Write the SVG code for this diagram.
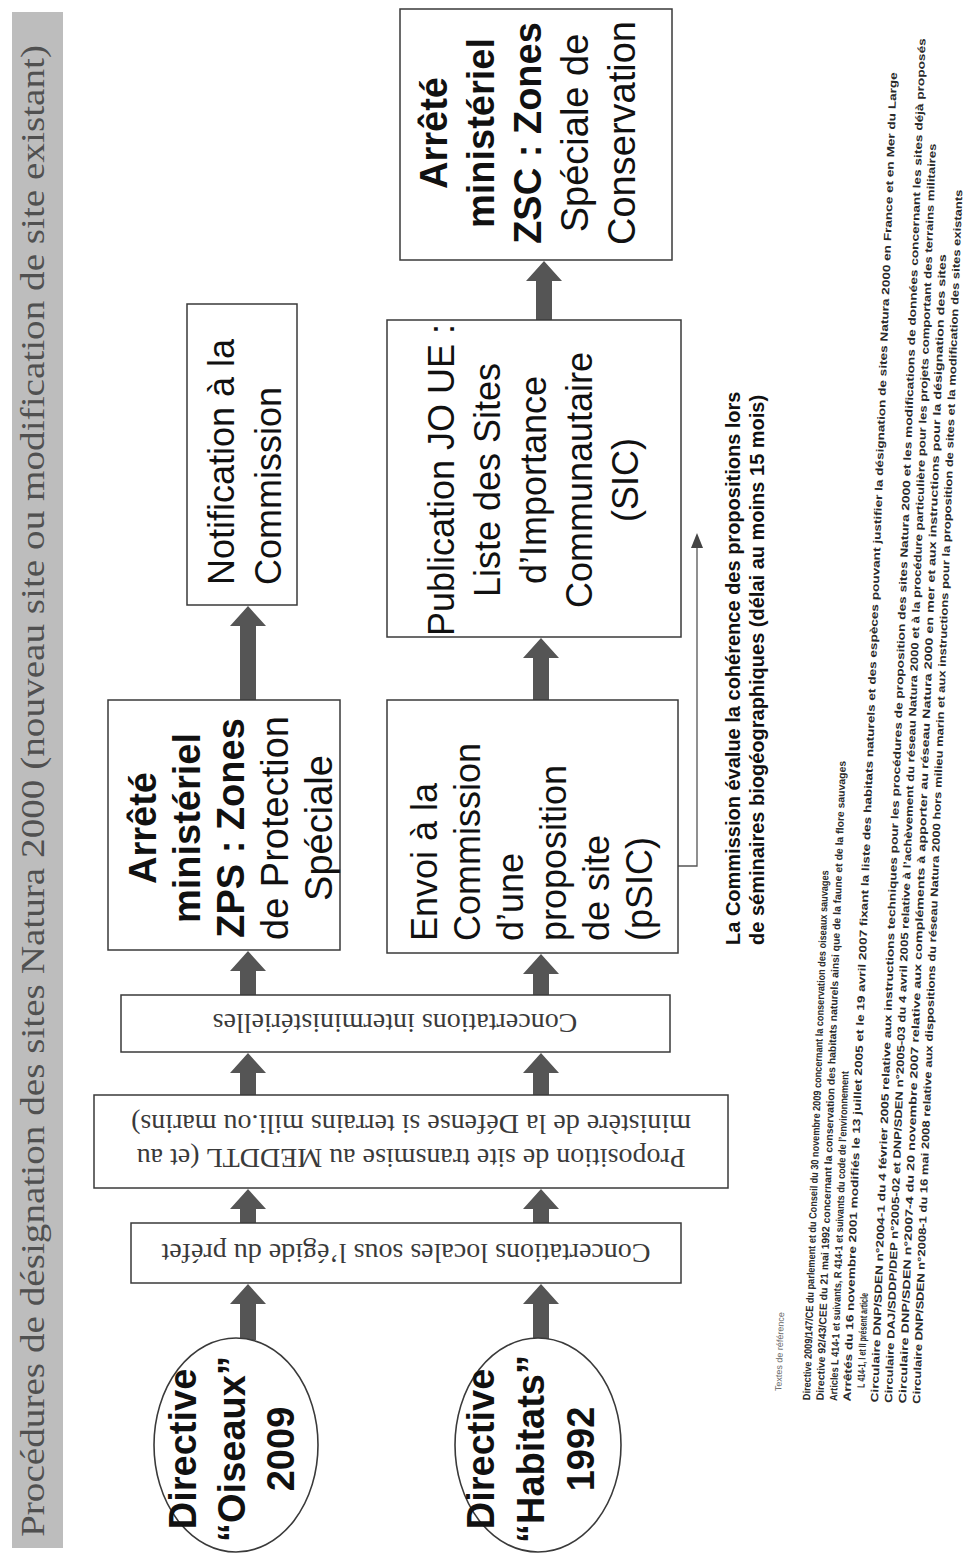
<svg xmlns="http://www.w3.org/2000/svg" width="979" height="1558" viewBox="0 0 979 1558">
<defs>
<style>
.box{fill:#fff;stroke:#3a3a3a;stroke-width:1.5}
.ell{fill:#fff;stroke:#3a3a3a;stroke-width:1.6}
.arr{fill:#555}
.fb{fill:none;stroke:#555;stroke-width:1.3}
.b{font-family:"Liberation Sans",Arial,sans-serif;font-weight:bold;font-size:38px;fill:#111}
.r{font-family:"Liberation Sans",Arial,sans-serif;font-size:36px;fill:#111}
.r38{font-family:"Liberation Sans",Arial,sans-serif;font-size:38px;fill:#111}
.s{font-family:"Liberation Serif","Times New Roman",serif;font-size:28px;fill:#3a3a3a}
.title{font-family:"Liberation Serif","Times New Roman",serif;font-size:34px;fill:#505050}
.note{font-family:"Liberation Sans",Arial,sans-serif;font-weight:bold;font-size:20px;fill:#111}
.fn{font-family:"Liberation Sans",Arial,sans-serif;font-weight:bold;font-size:10.5px;fill:#2a2a2a}
.fnh{font-family:"Liberation Sans",Arial,sans-serif;font-size:9px;fill:#666}
</style>
</defs>
<rect width="979" height="1558" fill="#fff"/>

<g id="title">
<rect x="12" y="12" width="51" height="1536" fill="#bdbdbd"/>
<text class="title" transform="rotate(-90)" x="-1537" y="44" textLength="1492" lengthAdjust="spacingAndGlyphs">Procédures de désignation des sites Natura 2000 (nouveau site ou modification de site existant)</text>
</g>

<g id="connectors">
<polygon class="arr" points="240,1340 240,1304 230,1304 248,1284 266,1304 256,1304 256,1340"/>
<polygon class="arr" points="533,1340 533,1304 523,1304 541,1284 559,1304 549,1304 549,1340"/>
<polygon class="arr" points="240,1223 240,1209 230,1209 248,1189 266,1209 256,1209 256,1223"/>
<polygon class="arr" points="533,1223 533,1209 523,1209 541,1189 559,1209 549,1209 549,1223"/>
<polygon class="arr" points="240,1095 240,1073 230,1073 248,1053 266,1073 256,1073 256,1095"/>
<polygon class="arr" points="533,1095 533,1073 523,1073 541,1053 559,1073 549,1073 549,1095"/>
<polygon class="arr" points="240,995 240,971 230,971 248,951 266,971 256,971 256,995"/>
<polygon class="arr" points="533,995 533,974 523,974 541,954 559,974 549,974 549,995"/>
<polygon class="arr" points="240,700 240,626 230,626 248,606 266,626 256,626 256,700"/>
<polygon class="arr" points="533,700 533,658 523,658 541,638 559,658 549,658 549,700"/>
<polygon class="arr" points="536,320 536,281 526,281 544,261 562,281 552,281 552,320"/>
<path class="fb" d="M678,866 H697 V547"/>
<polygon fill="#444" points="691,548 697,533 703,548"/>
</g>

<g id="oiseaux">
<ellipse class="ell" cx="236" cy="1445" rx="82" ry="107"/>
<g transform="rotate(-90)" text-anchor="middle">
<text class="b" x="-1449" y="196">Directive</text>
<text class="b" x="-1449" y="245">“Oiseaux”</text>
<text class="b" x="-1449" y="294">2009</text>
</g>
</g>

<g id="habitats">
<ellipse class="ell" cx="538" cy="1445" rx="83" ry="107"/>
<g transform="rotate(-90)" text-anchor="middle">
<text class="b" x="-1449" y="494">Directive</text>
<text class="b" x="-1449" y="544">“Habitats”</text>
<text class="b" x="-1449" y="594">1992</text>
</g>
</g>

<g id="concertations-locales">
<rect class="box" x="131" y="1223" width="550" height="60"/>
<text class="s" transform="rotate(180)" x="-406" y="-1244" text-anchor="middle">Concertations locales sous l’égide du préfet</text>
</g>

<g id="proposition">
<rect class="box" x="94" y="1095" width="634" height="93"/>
<g transform="rotate(180)" text-anchor="middle">
<text class="s" x="-411" y="-1149">Proposition de site transmise au MEDDTL (et au</text>
<text class="s" x="-411" y="-1115">ministère de la Défense si terrains mili.ou marins)</text>
</g>
</g>

<g id="concertations-interministerielles">
<rect class="box" x="121" y="995" width="549" height="57"/>
<text class="s" transform="rotate(180)" x="-395" y="-1014" text-anchor="middle">Concertations interministérielles</text>
</g>

<g id="zps">
<rect class="box" x="108" y="700" width="232" height="250"/>
<g transform="rotate(-90)" text-anchor="middle">
<text class="b" x="-828" y="156">Arrêté</text>
<text class="b" x="-828" y="200">ministériel</text>
<text class="b" x="-828" y="244">ZPS : Zones</text>
<text class="r38" x="-828" y="288">de Protection</text>
<text class="r38" x="-828" y="332">Spéciale</text>
</g>
</g>

<g id="envoi">
<rect class="box" x="387" y="700" width="291" height="253"/>
<g transform="rotate(-90)">
<text class="r" x="-941" y="437">Envoi à la</text>
<text class="r" x="-941" y="480">Commission</text>
<text class="r" x="-941" y="523">d’une</text>
<text class="r" x="-941" y="566">proposition</text>
<text class="r" x="-941" y="609">de site</text>
<text class="r" x="-941" y="652">(pSIC)</text>
</g>
</g>

<g id="notification">
<rect class="box" x="187" y="304" width="110" height="301"/>
<g transform="rotate(-90)">
<text class="r" x="-585" y="234">Notification à la</text>
<text class="r" x="-585" y="281">Commission</text>
</g>
</g>

<g id="publication">
<rect class="box" x="387" y="320" width="294" height="317"/>
<g transform="rotate(-90)" text-anchor="middle">
<text class="r" x="-480" y="454">Publication JO UE :</text>
<text class="r" x="-480" y="500">Liste des Sites</text>
<text class="r" x="-480" y="546">d’Importance</text>
<text class="r" x="-480" y="592">Communautaire</text>
<text class="r" x="-480" y="638">(SIC)</text>
</g>
</g>

<g id="zsc">
<rect class="box" x="400" y="9" width="272" height="251"/>
<g transform="rotate(-90)" text-anchor="middle">
<text class="b" x="-133" y="447">Arrêté</text>
<text class="b" x="-133" y="494">ministériel</text>
<text class="b" x="-133" y="541">ZSC : Zones</text>
<text class="r38" x="-133" y="588">Spéciale de</text>
<text class="r38" x="-133" y="635">Conservation</text>
</g>
</g>

<g id="commission-note">
<g transform="rotate(-90)">
<text class="note" x="-945" y="740">La Commission évalue la cohérence des propositions lors</text>
<text class="note" x="-945" y="764">de séminaires biogéographiques (délai au moins 15 mois)</text>
</g>
</g>

<g id="footnotes" transform="rotate(2 806 1400)">
<g transform="rotate(-90)" lengthAdjust="spacingAndGlyphs">
<text class="fnh" x="-1392" y="781">Textes de référence</text>
<text class="fn" x="-1400" y="810" textLength="530" lengthAdjust="spacingAndGlyphs">Directive 2009/147/CE du parlement et du Conseil du 30 novembre 2009 concernant la conservation des oiseaux sauvages</text>
<text class="fn" x="-1400" y="823.5" textLength="640" lengthAdjust="spacingAndGlyphs">Directive 92/43/CEE du 21 mai 1992 concernant la conservation des habitats naturels ainsi que de la faune et de la flore sauvages</text>
<text class="fn" x="-1400" y="837" textLength="330" lengthAdjust="spacingAndGlyphs">Articles L 414-1 et suivants, R 414-1 et suivants du code de l’environnement</text>
<text class="fn" x="-1400" y="850.5" textLength="1330" lengthAdjust="spacingAndGlyphs">Arrêtés du 16 novembre 2001 modifiés le 13 juillet 2005 et le 19 avril 2007 fixant la liste des habitats naturels et des espèces pouvant justifier la désignation de sites Natura 2000 en France et en Mer du Large</text>
<text class="fn" x="-1386" y="864" textLength="95" lengthAdjust="spacingAndGlyphs">L 414-1, I et II présent article</text>
<text class="fn" x="-1400" y="878" textLength="1365" lengthAdjust="spacingAndGlyphs">Circulaire DNP/SDEN n°2004-1 du 4 février 2005 relative aux instructions techniques pour les procédures de proposition des sites Natura 2000 et les modifications de données concernant les sites déjà proposés</text>
<text class="fn" x="-1400" y="892" textLength="1260" lengthAdjust="spacingAndGlyphs">Circulaire DAJ/SDDP/DEP n°2005-02 et DNP/SDEN n°2005-03 du 4 avril 2005 relative à l’achèvement du réseau Natura 2000 et à la procédure particulière pour les projets comportant des terrains militaires</text>
<text class="fn" x="-1400" y="906" textLength="1150" lengthAdjust="spacingAndGlyphs">Circulaire DNP/SDEN n°2007-4 du 20 novembre 2007 relative aux compléments à apporter au réseau Natura 2000 en mer et aux instructions pour la désignation des sites</text>
<text class="fn" x="-1400" y="920" textLength="1215" lengthAdjust="spacingAndGlyphs">Circulaire DNP/SDEN n°2008-1 du 16 mai 2008 relative aux dispositions du réseau Natura 2000 hors milieu marin et aux instructions pour la proposition de sites et la modification des sites existants</text>
</g>
</g>
</svg>
